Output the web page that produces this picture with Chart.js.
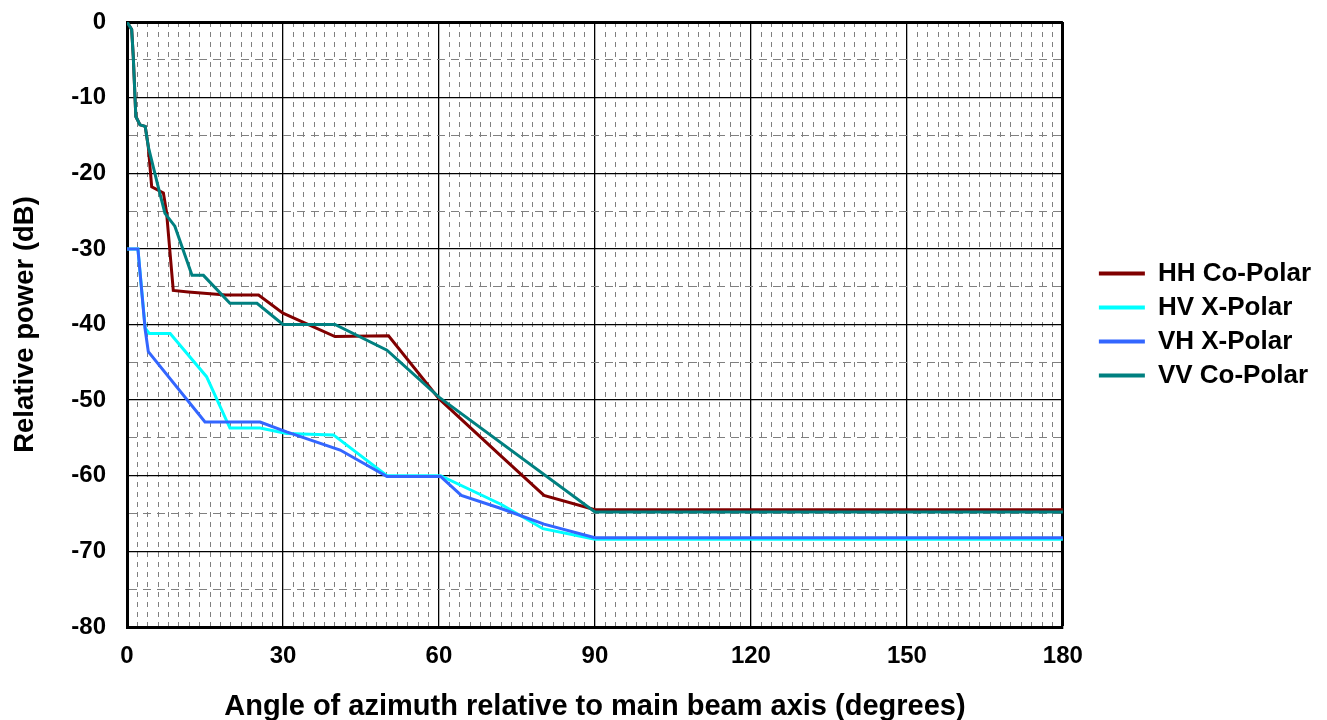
<!DOCTYPE html>
<html>
<head>
<meta charset="utf-8">
<script src="https://cdn.jsdelivr.net/npm/chart.js@4.4.1/dist/chart.umd.min.js"></script>
<style>
  html, body { margin: 0; padding: 0; background: #fff; }
  #wrap { width: 1327px; height: 720px; }
</style>
</head>
<body>
<div id="wrap"><canvas id="beam"></canvas></div>
<script>
    // azimuth angle (deg) and relative power (dB)
    const hhAngle = [0, 0.9, 1.2, 1.7, 2.5, 3.5, 4.1, 4.75, 7, 7.6, 8.9, 11.8, 19, 25.3, 30, 40, 50.3, 60, 71.8, 80.2, 90, 180];
    const hhPower = [0, -1, -4.5, -12.5, -13.6, -13.8, -16.5, -21.8, -22.6, -25.1, -35.5, -35.7, -36.1, -36.1, -38.5, -41.6, -41.5, -49.8, -57.3, -62.6, -64.5, -64.5];

    const hvAngle = [0, 2.1, 3.5, 4.3, 8.3, 15.3, 19.8, 25.6, 30.7, 39.7, 50, 60.3, 72, 80, 90, 180];
    const hvPower = [-30, -30, -40.5, -41.2, -41.2, -46.9, -53.7, -53.7, -54.4, -54.6, -60, -60, -63.8, -67, -68.4, -68.4];

    const vhAngle = [0, 2.1, 3.5, 4.1, 15, 25.6, 30.7, 41, 50, 60.3, 64.3, 71.8, 80.2, 90, 180];
    const vhPower = [-30, -30, -40.7, -43.6, -52.9, -52.9, -54.2, -56.6, -60.1, -60.1, -62.6, -64.3, -66.4, -68.2, -68.2];

    const vvAngle = [0, 0.9, 1.2, 1.7, 2.5, 3.5, 4.1, 6, 7.3, 9.2, 12.5, 14.7, 19.8, 25, 30, 40, 50, 60, 90, 180];
    const vvPower = [0, -1, -4.5, -12.5, -13.6, -13.8, -16.5, -21.8, -25.3, -27, -33.5, -33.5, -37.2, -37.2, -40, -40, -43.4, -49.6, -64.8, -64.8];

    const seriesNames = ['HH Co-Polar', 'HV X-Polar', 'VH X-Polar', 'VV Co-Polar'];
    const seriesColors = ['#800000', '#00ffff', '#3366ff', '#008080'];

    function pairs(xs, ys) {
      return xs.map(function(x, i) { return { x: x, y: ys[i] }; });
    }

    const allSeries = [
      pairs(hhAngle, hhPower),
      pairs(hvAngle, hvPower),
      pairs(vhAngle, vhPower),
      pairs(vvAngle, vvPower)
    ];

    const boldFont = function(size) {
      return { family: '"Liberation Sans", Arial, sans-serif', size: size, weight: 'bold' };
    };

    const isMajorDb = function(c) {
      return c.tick && c.tick.value % 10 === 0;
    };

    const ctx = document.getElementById('beam').getContext('2d');
    const data = {
      datasets: allSeries.map(function(pts, i) {
        return {
          label: seriesNames[i],
          data: pts,
          borderColor: seriesColors[i],
          backgroundColor: seriesColors[i],
          borderWidth: 3,
          pointRadius: 0,
          tension: 0,
          // later series sit on top, like the original
          order: allSeries.length - i
        };
      })
    };
    const options = {
      responsive: true,
      maintainAspectRatio: false,
      animation: false,
      layout: {
        padding: { top: 22, right: 6, bottom: 0, left: 0 }
      },
      plugins: {
        legend: {
          position: 'right',
          fullSize: false,
          labels: {
            boxWidth: 74,
            boxHeight: 0,
            padding: 8,
            color: '#000',
            font: boldFont(26),
            sort: function(a, b) { return a.datasetIndex - b.datasetIndex; },
            generateLabels: function(chart) {
              const items = Chart.defaults.plugins.legend.labels.generateLabels(chart);
              items.forEach(function(item) {
                // leave a gap before the line sample
                item.fillStyle = 'rgba(0,0,0,0)';
                item.lineWidth = 4;
                item.lineDash = [0, 28, 46, 400];
                item.lineDashOffset = 0;
              });
              return items;
            }
          }
        },
        tooltip: { enabled: false }
      },
      scales: {
        xMinor: {
          type: 'linear',
          position: 'top',
          min: 0,
          max: 180,
          ticks: { display: false, stepSize: 2 },
          grid: { color: '#808080', lineWidth: 1, drawTicks: false, z: -1 },
          border: { display: false, dash: [5, 5] },
          afterFit: function(axis) { axis.height = 0; }
        },
        x: {
          type: 'linear',
          position: 'bottom',
          min: 0,
          max: 180,
          ticks: { stepSize: 30, color: '#000', font: boldFont(24), padding: 15, maxRotation: 0 },
          grid: {
            color: '#000',
            lineWidth: function(c) { return c.tick && c.tick.value === 180 ? 3 : 1.3; },
            drawTicks: false
          },
          border: { color: '#000', width: 3 },
          title: {
            display: true,
            text: 'Angle of azimuth relative to main beam axis (degrees)',
            color: '#000',
            font: boldFont(29),
            padding: { top: 0, bottom: -4 }
          },
          afterFit: function(axis) { axis.height = 93; }
        },
        y: {
          type: 'linear',
          position: 'left',
          min: -80,
          max: 0,
          ticks: {
            stepSize: 5,
            autoSkip: false,
            color: '#000',
            font: boldFont(24),
            padding: 6,
            callback: function(v) { return v % 10 === 0 ? String(v) : ''; }
          },
          grid: {
            color: function(c) { return isMajorDb(c) ? '#000' : '#808080'; },
            lineWidth: function(c) {
              if (c.tick && c.tick.value === 0) return 3;
              return isMajorDb(c) ? 1.3 : 1;
            },
            drawTicks: true,
            tickLength: 15,
            tickColor: 'rgba(0,0,0,0)'
          },
          border: {
            color: '#000',
            width: 3,
            dash: function(c) { return c.tick && !isMajorDb(c) ? [8, 6] : []; }
          },
          title: {
            display: true,
            text: 'Relative power (dB)',
            color: '#000',
            font: boldFont(27.5),
            padding: { top: 9, bottom: 0 }
          },
          afterFit: function(axis) { axis.width = 127; }
        }
      }
    };
    const beam = new Chart(ctx, {
      type: 'line',
      data: data,
      options: options
    });
</script>
</body>
</html>
